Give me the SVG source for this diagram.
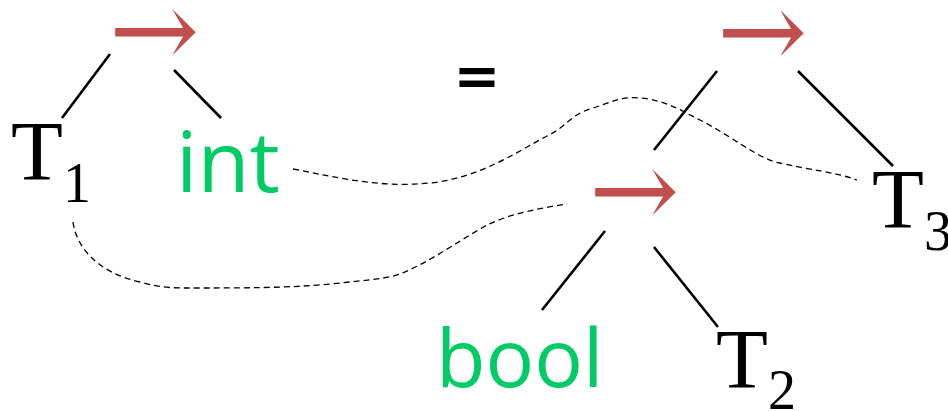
<svg xmlns="http://www.w3.org/2000/svg" width="948" height="411" viewBox="0 0 948 411">
<style>
.arr{font-family:"DejaVu Serif",serif;font-size:108px;fill:#C0504D}
.tv{font-family:"Liberation Serif","Times New Roman",serif;font-size:85px;fill:#000}
.sub{font-size:56px}
.base{font-family:"Open Sans","DejaVu Sans",sans-serif;font-size:85px;fill:#00CC66}
.edge{stroke:#000;stroke-width:2.6;fill:none}
.link{stroke:#000;stroke-width:1.3;fill:none;stroke-dasharray:6 4}
</style>
<rect width="948" height="411" fill="#fff"/>
<g id="arrow-left"><text class="arr" x="109" y="67">→</text></g>
<g id="T1"><text class="tv" x="11" y="180">T<tspan class="sub" dy="22">1</tspan></text></g>
<g id="int"><text class="base" x="176" y="192">int</text></g>
<g id="equals"><text x="477" y="95" text-anchor="middle" style="font-family:'DejaVu Sans',sans-serif;font-weight:bold;font-size:56px;fill:#000">=</text></g>
<g id="arrow-right"><text class="arr" x="717" y="68">→</text></g>
<g id="arrow-mid"><text class="arr" x="589" y="227">→</text></g>
<g id="T3"><text class="tv" x="872" y="228">T<tspan class="sub" dy="22">3</tspan></text></g>
<g id="bool"><text class="base" x="436" y="387" style="font-size:81px">bool</text></g>
<g id="T2"><text class="tv" x="716" y="388">T<tspan class="sub" dy="21">2</tspan></text></g>
<g id="connectors">
<line class="edge" x1="110" y1="54" x2="62" y2="118"/>
<line class="edge" x1="174" y1="70" x2="221" y2="118"/>
<line class="edge" x1="717" y1="71" x2="654" y2="150"/>
<line class="edge" x1="798" y1="71" x2="893" y2="166"/>
<line class="edge" x1="605" y1="231" x2="542" y2="310"/>
<line class="edge" x1="654" y1="247" x2="718" y2="327"/>
<path class="link" d="M293,169 C340,178 380,188 430,183 C480,178 520,150 547,136 C565,128 570,115 590,109 C610,103 620,96 640,98 C665,100 680,110 700,120 C730,135 760,160 780,163 C810,170 835,172 857,180"/>
<path class="link" d="M73,222 C76,245 95,272 140,282 C160,288 175,288 190,288 C240,288 290,288 330,284 C370,280 390,278 400,274 C430,262 460,240 487,225 C510,214 540,208 567,204"/>
</g>
</svg>
